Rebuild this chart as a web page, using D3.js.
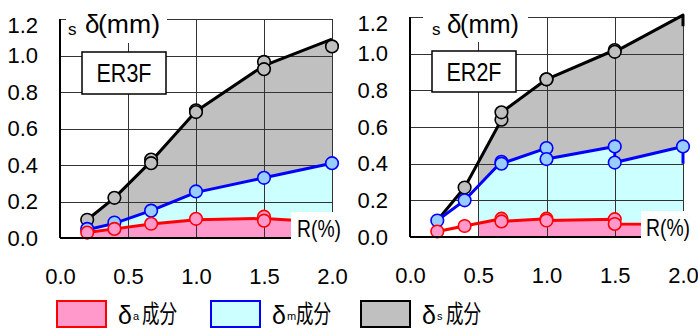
<!DOCTYPE html>
<html>
<head>
<meta charset="utf-8">
<script src="https://cdn.jsdelivr.net/npm/d3@7"></script>
<style>
  html, body { margin: 0; padding: 0; background: #fff; }
  svg { display: block; }
</style>
</head>
<body>
<svg id="chart" width="698" height="329"></svg>
<script>
// Axis ticks
const rTicks = [0.0, 0.5, 1.0, 1.5, 2.0];
const dTicks = [0.0, 0.2, 0.4, 0.6, 0.8, 1.0, 1.2];

// ER3F: envelope lines through the peak values
const lineR3F = [0.2, 0.4, 0.67, 1.0, 1.5, 2.0];
const lineS3F = [0.10, 0.22, 0.42, 0.695, 0.945, 1.09];
const lineM3F = [0.045, 0.08, 0.15, 0.25, 0.33, 0.41];
const lineA3F = [0.03, 0.05, 0.077, 0.10, 0.107, 0.085];
// ER3F: measured points
const markRS3F = [0.2, 0.4, 0.67, 0.67, 1.0, 1.0, 1.5, 1.5, 2.0];
const markS3F  = [0.10, 0.22, 0.43, 0.41, 0.70, 0.69, 0.965, 0.925, 1.05];
const markRM3F = [0.2, 0.4, 0.67, 1.0, 1.5, 2.0];
const markM3F  = [0.05, 0.085, 0.15, 0.255, 0.33, 0.41];
const markRA3F = [0.2, 0.4, 0.67, 1.0, 1.5, 1.5];
const markA3F  = [0.03, 0.05, 0.078, 0.105, 0.117, 0.095];

// ER2F: lines through every cycle in loading order
const lineR2F = [0.2, 0.4, 0.67, 0.67, 1.0, 1.0, 1.5, 1.5, 2.0, 2.0];
const lineS2F = [0.09, 0.27, 0.64, 0.68, 0.86, 0.86, 1.02, 1.01, 1.21, 1.15];
const lineM2F = [0.09, 0.20, 0.41, 0.40, 0.485, 0.425, 0.494, 0.406, 0.494, 0.40];
const lineA2F = [0.03, 0.06, 0.10, 0.085, 0.10, 0.09, 0.097, 0.071, 0.07, 0.07];
// ER2F: measured points
const markRS2F = [0.4, 0.67, 0.67, 1.0, 1.0, 1.5, 1.5];
const markS2F  = [0.27, 0.64, 0.68, 0.86, 0.86, 1.02, 1.01];
const markRM2F = [0.2, 0.4, 0.67, 0.67, 1.0, 1.0, 1.5, 1.5, 2.0];
const markM2F  = [0.09, 0.20, 0.41, 0.40, 0.485, 0.425, 0.494, 0.406, 0.494];
const markRA2F = [0.2, 0.4, 0.67, 0.67, 1.0, 1.0, 1.5, 1.5];
const markA2F  = [0.03, 0.06, 0.10, 0.085, 0.10, 0.09, 0.097, 0.071];

// Legend text
const legendSubs = ["a", "m", "s"];
const legendBase = "δ";
const legendSuffix = "成分";

const zip = (xs, ys) => xs.map((x, i) => [x, ys[i]]);

// Component styles: s = total (grey), m = blue, a = red
const styles = {
  s: { fill: "#c0c0c0", line: "#000000", mfill: "#c0c0c0" },
  m: { fill: "#ccffff", line: "#0000ff", mfill: "#99ccff" },
  a: { fill: "#ff99cc", line: "#ff0000", mfill: "#ff99cc" }
};

const panels = [
  {
    id: "p3f", name: "ER3F", xr: [60, 332], yr: [238, 19], fillFrom: 0.2, labelRight: 38,
    lines: { s: zip(lineR3F, lineS3F), m: zip(lineR3F, lineM3F), a: zip(lineR3F, lineA3F) },
    marks: { s: zip(markRS3F, markS3F), m: zip(markRM3F, markM3F), a: zip(markRA3F, markA3F) },
    unit: { box: [66, 0, 101, 43], s: 68, d: 85, mm: 98, mmW: 62 },
    nameBox: [82, 52, 84, 42],
    rBox: [291, 212, 56, 28], rX: 297
  },
  {
    id: "p2f", name: "ER2F", xr: [410, 683], yr: [237, 17], fillFrom: 0.5, labelRight: 388,
    lines: { s: zip(lineR2F, lineS2F), m: zip(lineR2F, lineM2F), a: zip(lineR2F, lineA2F) },
    marks: { s: zip(markRS2F, markS2F), m: zip(markRM2F, markM2F), a: zip(markRA2F, markA2F) },
    unit: { box: [423, 0, 105, 42], s: 432, d: 447, mm: 460, mmW: 59 },
    nameBox: [432, 51, 84, 41],
    rBox: [641, 211, 57, 28], rX: 646
  }
];

const svg = d3.select("#chart");
const numFont = "'Liberation Sans', Arial, sans-serif";
const cjkFont = "'Noto Sans CJK JP', sans-serif";

panels.forEach(p => {
  const x = d3.scaleLinear().domain([0, 2]).range(p.xr);
  const y = d3.scaleLinear().domain([0, 1.2]).range(p.yr);
  const g = svg.append("g");

  // filled component areas, clipped to the filled range of drift
  const clipId = "clip-" + p.id;
  svg.append("defs").append("clipPath").attr("id", clipId)
    .append("rect")
    .attr("x", x(p.fillFrom)).attr("y", y(1.2))
    .attr("width", x(2) - x(p.fillFrom)).attr("height", y(0) - y(1.2));

  const area = d3.area().x(d => x(d[0])).y0(y(0)).y1(d => y(d[1]));
  const areas = g.append("g").attr("clip-path", `url(#${clipId})`);
  ["s", "m", "a"].forEach(k => {
    areas.append("path").attr("d", area(p.lines[k])).attr("fill", styles[k].fill);
  });

  // grid and tick labels via axes
  const yAxis = d3.axisLeft(y).tickValues(dTicks).tickSize(-(p.xr[1] - p.xr[0]))
    .tickPadding(p.xr[0] - p.labelRight).tickFormat(d3.format(".1f"));
  const xAxis = d3.axisBottom(x).tickValues(rTicks).tickSize(-(p.yr[0] - p.yr[1]))
    .tickPadding(30).tickFormat(d3.format(".1f"));

  const ya = g.append("g").attr("transform", `translate(${p.xr[0]},0)`).call(yAxis);
  const xa = g.append("g").attr("transform", `translate(0,${p.yr[0]})`).call(xAxis);
  [ya, xa].forEach(a => {
    a.select(".domain").remove();
    a.selectAll(".tick line").attr("stroke", "#333").attr("stroke-width", 1)
      .attr("shape-rendering", "crispEdges");
    a.selectAll(".tick text").attr("fill", "#000").attr("font-family", numFont)
      .attr("font-size", 22);
  });
  ya.selectAll(".tick text").attr("x", -(p.xr[0] - p.labelRight));
  // keep the top label inside the canvas
  ya.selectAll(".tick").filter(d => d === 1.2).select("text").attr("dy", "0.62em");
  ya.selectAll(".tick").filter(d => d === 0).select("line").remove();
  xa.selectAll(".tick").filter(d => d === 0).select("line").remove();

  // lines and markers
  const line = d3.line().x(d => x(d[0])).y(d => y(d[1]));
  ["s", "m", "a"].forEach(k => {
    g.append("path").attr("d", line(p.lines[k])).attr("fill", "none")
      .attr("stroke", styles[k].line).attr("stroke-width", 3).attr("stroke-linejoin", "round");
    g.append("g").selectAll("circle").data(p.marks[k]).join("circle")
      .attr("cx", d => x(d[0])).attr("cy", d => y(d[1])).attr("r", 6.3)
      .attr("fill", styles[k].mfill).attr("stroke", styles[k].line).attr("stroke-width", 1.6);
  });

  // axis lines
  g.append("line").attr("x1", x(0)).attr("x2", x(0)).attr("y1", y(1.2)).attr("y2", y(0))
    .attr("stroke", "#000").attr("stroke-width", 2);
  g.append("line").attr("x1", x(0)).attr("x2", x(2)).attr("y1", y(0)).attr("y2", y(0))
    .attr("stroke", "#000").attr("stroke-width", 2);

  // unit label  sδ(mm)
  const u = p.unit;
  g.append("rect").attr("x", u.box[0]).attr("y", u.box[1]).attr("width", u.box[2])
    .attr("height", u.box[3]).attr("fill", "#fff");
  g.append("text").attr("x", u.s).attr("y", 35).attr("font-family", numFont)
    .attr("font-size", 17).text("s");
  g.append("text").attr("x", u.d).attr("y", 33).attr("font-family", numFont)
    .attr("font-size", 26).text("δ");
  g.append("text").attr("x", u.mm).attr("y", 33).attr("font-family", numFont)
    .attr("font-size", 26).attr("textLength", u.mmW).attr("lengthAdjust", "spacingAndGlyphs")
    .text("(mm)");

  // specimen name box
  const nb = p.nameBox;
  g.append("rect").attr("x", nb[0]).attr("y", nb[1]).attr("width", nb[2]).attr("height", nb[3])
    .attr("fill", "#fff").attr("stroke", "#000").attr("stroke-width", 1.5);
  g.append("text").attr("x", nb[0] + nb[2] / 2).attr("y", nb[1] + nb[3] / 2 + 9)
    .attr("text-anchor", "middle").attr("font-family", numFont).attr("font-size", 25)
    .attr("textLength", 55).attr("lengthAdjust", "spacingAndGlyphs").text(p.name);

  // R(%) axis title
  const rb = p.rBox;
  g.append("rect").attr("x", rb[0]).attr("y", rb[1]).attr("width", rb[2]).attr("height", rb[3])
    .attr("fill", "#fff");
  g.append("text").attr("x", p.rX).attr("y", rb[1] + 25).attr("font-family", numFont)
    .attr("font-size", 24).attr("textLength", 44).attr("lengthAdjust", "spacingAndGlyphs")
    .text("R(%)");
});

// legend
const legendX = [57, 211, 361];
const lg = svg.append("g");
["a", "m", "s"].forEach((k, i) => {
  const x0 = legendX[i];
  lg.append("rect").attr("x", x0).attr("y", 301).attr("width", 49).attr("height", 26)
    .attr("fill", styles[k].fill).attr("stroke", styles[k].line).attr("stroke-width", 2);
  lg.append("text").attr("x", x0 + 61).attr("y", 324).attr("font-family", numFont)
    .attr("font-size", 25).text(legendBase);
  lg.append("text").attr("x", x0 + 76).attr("y", 320).attr("font-family", numFont)
    .attr("font-size", 11).text(legendSubs[i]);
  lg.append("text").attr("x", x0 + 85).attr("y", 323).attr("font-family", cjkFont)
    .attr("font-size", 25).attr("textLength", 35).attr("lengthAdjust", "spacingAndGlyphs")
    .text(legendSuffix);
});
</script>
</body>
</html>
